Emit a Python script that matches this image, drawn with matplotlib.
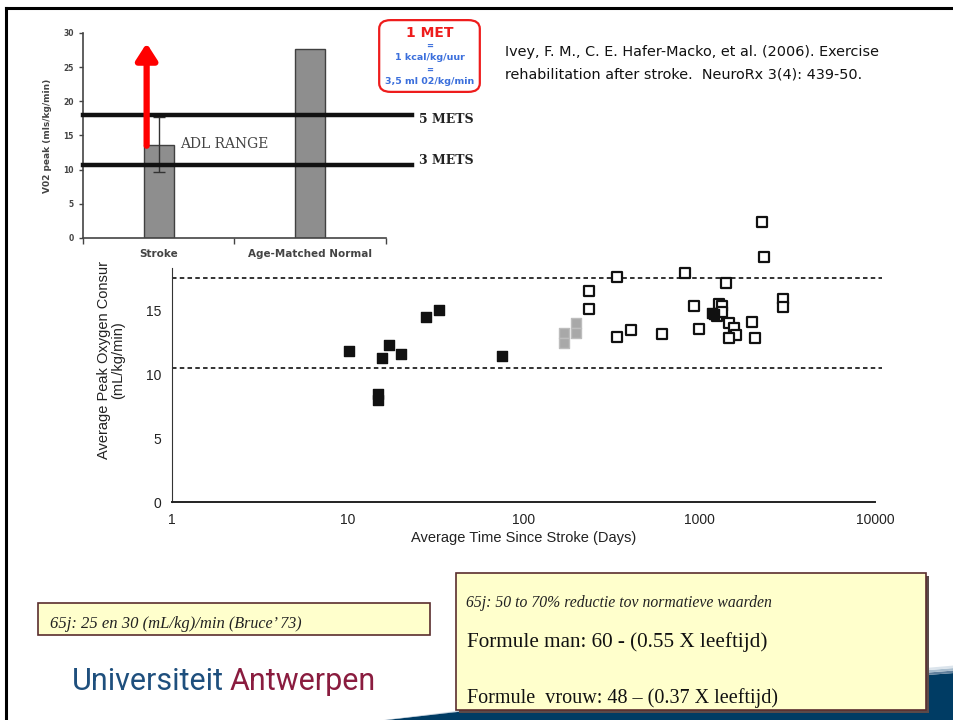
import matplotlib
matplotlib.use('Agg')
import matplotlib.pyplot as plt
from matplotlib.patches import FancyBboxPatch, Rectangle, Polygon
import numpy as np

# bovenste grafiek: VO2 peak
bar_categories = ['Stroke', 'Age-Matched Normal']
bar_values = [13.6, 27.6]
stroke_err = [[3.9], [4.1]]
met_levels = [18.0, 10.7]
met_labels = ['5 METS', '3 METS']
met_label_y = [17.3, 11.3]

# onderste grafiek: VO2 vs tijd sinds beroerte
filled_x = [10.1, 14.8, 14.8, 15.6, 17.1, 20.0, 27.7, 32.9, 75.0, 1175, 1217]
filled_y = [11.8, 8.4, 8.0, 11.25, 12.3, 11.6, 14.45, 15.0, 11.4, 14.8, 14.7]
gray_x = [171, 171, 199, 199]
gray_y = [13.2, 12.4, 14.0, 13.2]
open_x = [2270, 2340, 339, 829, 1418, 237, 237, 341, 409, 611, 937, 1000, 1300,
          1345, 1254, 1352, 1480, 1581, 1616, 1480, 1992, 2073, 3013, 3013]
open_y = [21.85, 19.16, 17.6, 17.87, 17.09, 16.5, 15.05, 12.9, 13.44, 13.1, 15.3,
          13.5, 15.47, 15.3, 14.55, 14.84, 13.96, 13.6, 13.05, 12.79, 14.04, 12.79,
          15.86, 15.2]
mets_dashed = [17.5, 10.5]
scatter_xticks = [1, 10, 100, 1000, 10000]
scatter_yticks = [0, 5, 10, 15]

W, H = 954, 720
fig = plt.figure(figsize=(W / 100, H / 100), dpi=100)
fig.patch.set_facecolor('white')


def fx(px):
    return px / W


def fy(py):
    return 1 - py / H


def box(l, t, r, b):
    return [fx(l), fy(b), fx(r) - fx(l), fy(t) - fy(b)]


# kader van de slide
fig.add_artist(plt.Line2D([fx(6), fx(954)], [fy(8), fy(8)], color='black', lw=2.2))
fig.add_artist(plt.Line2D([fx(6), fx(6)], [fy(8), fy(720)], color='black', lw=2.2))

# ---- staafdiagram ----
ax1 = fig.add_axes(box(83, 33, 386, 238))
xpos = [0.5, 1.5]
ax1.bar(xpos, bar_values, width=0.2, color='#8e8e8e', edgecolor='#404040', lw=1.0, zorder=2)
ax1.errorbar([xpos[0]], [bar_values[0]], yerr=stroke_err, fmt='none', ecolor='#333333',
             elinewidth=1.0, capsize=4, zorder=3)
for lvl, ly, lab in zip(met_levels, met_label_y, met_labels):
    ax1.plot([0, 2.17], [lvl, lvl], color='#111111', lw=3.2, clip_on=False, zorder=4)
    ax1.text(2.22, ly, lab, fontsize=9, fontweight='bold', family='DejaVu Serif',
             va='center', ha='left', color='#222222')
ax1.text(0.64, 13.8, 'ADL RANGE', fontsize=10, family='DejaVu Serif', color='#444444',
         va='center', ha='left')
ax1.annotate('', xy=(0.42, 28.5), xytext=(0.42, 13.5),
             arrowprops=dict(arrowstyle='-|>,head_length=0.7,head_width=0.45',
                             color='red', lw=4.5, mutation_scale=14, shrinkA=0, shrinkB=0),
             zorder=5)
ax1.set_xlim(0, 2)
ax1.set_ylim(0, 30)
ax1.set_yticks(range(0, 31, 5))
ax1.set_xticks([0, 1, 2])
ax1.set_xticklabels([])
for x, lab in zip(xpos, bar_categories):
    ax1.text(x, -1.6, lab, fontsize=7.5, fontweight='bold', color='#444444',
             ha='center', va='top')
ax1.tick_params(axis='y', labelsize=5.5, colors='#444444', length=3, width=1)
ax1.tick_params(axis='x', length=4, width=1, colors='#444444')
for t in ax1.get_yticklabels():
    t.set_fontweight('bold')
for s in ['top', 'right']:
    ax1.spines[s].set_visible(False)
for s in ['left', 'bottom']:
    ax1.spines[s].set_color('#444444')
    ax1.spines[s].set_linewidth(1.2)
ax1.set_ylabel('V02 peak (mls/kg/min)', fontsize=6.5, fontweight='bold', color='#444444',
               labelpad=8)

# 1 MET kader
fig.add_artist(FancyBboxPatch((fx(383), fy(89)), fx(476) - fx(383), fy(23) - fy(89),
                              boxstyle='round,pad=0.004,rounding_size=0.012',
                              transform=fig.transFigure, facecolor='white',
                              edgecolor='#ee1c1c', lw=1.6))
fig.text(fx(429.5), fy(33), '1 MET', color='#ee1c1c', fontsize=10, fontweight='bold',
         ha='center', va='center')
met_blue = '#3b6fdc'
fig.text(fx(429.5), fy(46), '=', color=met_blue, fontsize=6, fontweight='bold', ha='center', va='center')
fig.text(fx(429.5), fy(57), '1 kcal/kg/uur', color=met_blue, fontsize=6.8, fontweight='bold',
         ha='center', va='center')
fig.text(fx(429.5), fy(70), '=', color=met_blue, fontsize=6, fontweight='bold', ha='center', va='center')
fig.text(fx(429.5), fy(81), '3,5 ml 02/kg/min', color=met_blue, fontsize=6.8, fontweight='bold',
         ha='center', va='center')

# referentie
fig.text(fx(505), fy(52), 'Ivey, F. M., C. E. Hafer-Macko, et al. (2006). Exercise',
         fontsize=10.4, ha='left', va='center', color='#111111')
fig.text(fx(505), fy(75), 'rehabilitation after stroke.  NeuroRx 3(4): 439-50.',
         fontsize=10.4, ha='left', va='center', color='#111111')

# ---- spreidingsdiagram ----
ax2 = fig.add_axes(box(172, 214, 875, 502))
ax2.patch.set_visible(False)
ax2.set_xscale('log')
ax2.set_xlim(1, 10000)
ax2.set_ylim(0, 22.5)
for lvl in mets_dashed:
    ax2.plot([1, 11000], [lvl, lvl], color='#222222', lw=1.3, ls=(0, (2.5, 1.8)),
             clip_on=False)
ax2.scatter(open_x, open_y, marker='s', s=62, facecolor='white', edgecolor='#111111',
            lw=1.6, zorder=3, clip_on=False)
ax2.scatter(gray_x, gray_y, marker='s', s=55, facecolor='#a8a8a8', edgecolor='#bdbdbd',
            lw=1, zorder=3)
ax2.scatter(filled_x, filled_y, marker='s', s=62, facecolor='#111111', edgecolor='#111111',
            lw=1, zorder=4)
ax2.spines['left'].set_bounds(0, 18.3)
for s in ['top', 'right']:
    ax2.spines[s].set_visible(False)
ax2.spines['left'].set_color('#333333')
ax2.spines['bottom'].set_color('#222222')
ax2.spines['bottom'].set_linewidth(1.4)
ax2.set_xticks(scatter_xticks)
ax2.set_xticklabels([str(v) for v in scatter_xticks])
ax2.minorticks_off()
ax2.set_yticks(scatter_yticks)
ax2.tick_params(length=0, labelsize=10, colors='#222222', pad=8)
for t in ax2.get_xticklabels() + ax2.get_yticklabels():
    t.set_family('Liberation Sans')
ax2.set_xlabel('Average Time Since Stroke (Days)', fontsize=10.5, family='Liberation Sans',
               color='#222222', labelpad=3)
ax2.set_ylabel('Average Peak Oxygen Consur\n(mL/kg/min)', fontsize=10.5,
               family='Liberation Sans', color='#222222', linespacing=0.95)
ax2.yaxis.set_label_coords(-0.067, 0.493)

# ---- blauwe golf onderaan ----
xs = np.linspace(360, 954, 80)
top = np.interp(xs, [360, 457, 700, 927, 954], [723, 712, 692, 675, 673])
verts = [(fx(x), fy(y)) for x, y in zip(xs, top)] + [(fx(954), fy(725)), (fx(360), fy(725))]
fig.add_artist(Polygon(verts, closed=True, transform=fig.transFigure,
                       facecolor='#003c64', edgecolor='none'))
tt = (xs - 360) / 594
for k, (dy, col) in enumerate([(2.5, '#5f7f9c'), (5, '#a7bccd'), (7.5, '#dbe4ec')]):
    upper = top - dy * tt
    lower = top - (dy - 2.5) * tt
    band = [(fx(x), fy(y)) for x, y in zip(xs, upper)] + \
           [(fx(x), fy(y)) for x, y in zip(xs[::-1], lower[::-1])]
    fig.add_artist(Polygon(band, closed=True, transform=fig.transFigure,
                           facecolor=col, edgecolor='none'))

# ---- tekstkaders ----
fig.add_artist(Rectangle((fx(38), fy(635)), fx(430) - fx(38), fy(603) - fy(635),
                         transform=fig.transFigure, facecolor='#ffffcc',
                         edgecolor='#5a2e2e', lw=1.2))
t1 = fig.text(fx(50), fy(628), "65j: 25 en 30 (mL/kg)/min", fontsize=12,
              family='Liberation Serif', style='italic', ha='left', va='baseline',
              color='#222222')
fig.canvas.draw()
bb = t1.get_window_extent()
fig.text(bb.x1 / W + fx(4), fy(628), "(Bruce\u2019 73)", fontsize=11.5,
         family='Liberation Serif', style='italic', ha='left', va='baseline', color='#222222')

fig.add_artist(Rectangle((fx(459), fy(713)), fx(929) - fx(459), fy(576) - fy(713),
                         transform=fig.transFigure, facecolor='#5a4a4a',
                         edgecolor='none'))
fig.add_artist(Rectangle((fx(456), fy(710)), fx(926) - fx(456), fy(573) - fy(710),
                         transform=fig.transFigure, facecolor='#ffffcc',
                         edgecolor='#5a2e2e', lw=1.2))
fig.text(fx(466), fy(607), '65j: 50 to 70% reductie tov normatieve waarden', fontsize=11.3,
         family='Liberation Serif', style='italic', ha='left', va='baseline', color='#222222')
fig.text(fx(467), fy(647), 'Formule man: 60 - (0.55 X leeftijd)', fontsize=15.2,
         family='Liberation Serif', ha='left', va='baseline', color='#111111')
fig.text(fx(467), fy(703), 'Formule  vrouw: 48 \u2013 (0.37 X leeftijd)', fontsize=14.5,
         family='Liberation Serif', ha='left', va='baseline', color='#111111')

# ---- logo tekst ----
fig.text(fx(72), fy(690), 'Universiteit', fontsize=22, family='Roboto', color='#1e4f7d',
         ha='left', va='baseline')
fig.text(fx(230), fy(690), 'Antwerpen', fontsize=22, family='Roboto', color='#8a1c3f',
         ha='left', va='baseline')

fig.savefig('out.png', dpi=100)
